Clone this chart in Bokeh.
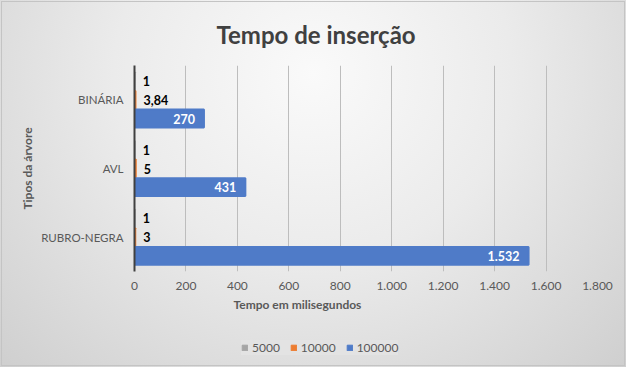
from bokeh.plotting import figure
from bokeh.layouts import column
from bokeh.models import (FactorRange, Range1d, FixedTicker, Legend,
                          LegendItem, ColumnDataSource, Title)
from bokeh.transform import dodge
from bokeh.embed import file_html
from bokeh.resources import INLINE

# ---------------- data ----------------
chart_title = "Tempo de inserção"
x_title = "Tempo em milisegundos"
y_title = "Tipos da árvore"
categories = ["BINÁRIA", "AVL", "RUBRO-NEGRA"]
series_names = ["5000", "10000", "100000"]
v5000 = [1, 1, 1]
v10000 = [3.84, 5, 3]
v100000 = [270, 431, 1532]
xticks = [0, 200, 400, 600, 800, 1000, 1200, 1400, 1600, 1800]
xtick_labels = ["0", "200", "400", "600", "800", "1.000", "1.200",
                "1.400", "1.600", "1.800"]
colors = ["#A5A5A5", "#ED7D31", "#4F7BC8"]

FONT = "Lato"


def fmt_ptbr(v):
    if float(v).is_integer():
        return f"{int(v):,}".replace(",", ".")
    return f"{v:.2f}".replace(".", ",")


source = ColumnDataSource(dict(
    cat=categories,
    s5000=v5000, s10000=v10000, s100000=v100000,
    l5000=[fmt_ptbr(v) for v in v5000],
    l10000=[fmt_ptbr(v) for v in v10000],
    l100000=[fmt_ptbr(v) for v in v100000],
))

p = figure(frame_width=463, frame_height=206,
           y_range=FactorRange(*categories[::-1]),
           x_range=Range1d(0, 1800),
           output_backend="svg", toolbar_location=None,
           min_border_left=134, min_border_right=29,
           min_border_top=65, min_border_bottom=62)

p.background_fill_alpha = 0
p.border_fill_alpha = 0
p.outline_line_color = None

# chart title
p.title.text = chart_title
p.title.align = "left"
p.title.offset = 82
p.title.text_font = FONT
p.title.text_font_size = "24px"
p.title.text_font_style = "bold"
p.title.text_color = "#404040"
p.title.standoff = 34

# grid
p.ygrid.grid_line_color = None
p.xgrid.grid_line_color = "#bdbdbd"
p.xgrid.grid_line_width = 1

# x axis
p.xaxis.ticker = FixedTicker(ticks=xticks)
p.xaxis.major_label_overrides = {t: l for t, l in zip(xticks, xtick_labels)}
p.xaxis.axis_line_color = None
p.xaxis.major_tick_line_color = None
p.xaxis.major_tick_out = 0
p.xaxis.major_tick_in = 0
p.xaxis.minor_tick_line_color = None
p.xaxis.major_label_standoff = 10
p.xaxis.major_label_text_font = FONT
p.xaxis.major_label_text_font_size = "12px"
p.xaxis.major_label_text_color = "#595959"

# y axis
p.yaxis.axis_line_color = "#404040"
p.yaxis.axis_line_width = 2
p.yaxis.major_tick_line_color = None
p.yaxis.major_tick_out = 0
p.yaxis.major_tick_in = 0
p.yaxis.minor_tick_line_color = None
p.yaxis.major_label_standoff = 11
p.yaxis.major_label_text_font = FONT
p.yaxis.major_label_text_font_size = "11.5px"
p.yaxis.major_label_text_color = "#595959"
p.yaxis.axis_label = y_title
p.yaxis.axis_label_text_font = FONT
p.yaxis.axis_label_text_font_size = "12px"
p.yaxis.axis_label_text_font_style = "bold"
p.yaxis.axis_label_text_color = "#595959"
p.yaxis.axis_label_standoff = 3

offsets = [0.272, 0.0, -0.272]
cols = ["s5000", "s10000", "s100000"]
lcols = ["l5000", "l10000", "l100000"]
for col, off, color in zip(cols, offsets, colors):
    p.hbar(y=dodge("cat", off, range=p.y_range), left=0, right=col,
           height=0.26, fill_color=color, line_color=color, line_width=2,
           source=source)

# data labels: small series outside, large series inside end
for col, lcol, off in zip(cols[:2], lcols[:2], offsets[:2]):
    p.text(x=col, y=dodge("cat", off, range=p.y_range), text=lcol, source=source,
           x_offset=8, text_align="left", text_baseline="middle",
           text_font={"value": FONT}, text_font_size="12.5px",
           text_font_style="bold", text_color="#000000")
p.text(x=cols[2], y=dodge("cat", offsets[2], range=p.y_range), text=lcols[2],
       source=source, x_offset=-9, text_align="right", text_baseline="middle",
       text_font={"value": FONT}, text_font_size="12.5px",
       text_font_style="bold", text_color="#FFFFFF")

# x-axis title (below the tick labels)
xt = Title(text=x_title, align="left", offset=99, vertical_align="top",
           standoff=8, text_font=FONT, text_font_size="12px",
           text_font_style="bold", text_color="#595959")
p.add_layout(xt, "below")

# ---------------- legend strip (second, axis-less figure) ----------------
pl = figure(width=626, height=34, x_range=Range1d(0, 1800),
            y_range=FactorRange(*categories[::-1]),
            x_axis_location=None, y_axis_location=None, title_location=None,
            output_backend="svg", toolbar_location=None, min_border=0)
pl.grid.visible = False
pl.background_fill_alpha = 0
pl.border_fill_alpha = 0
pl.outline_line_color = None

legend_renderers = []
for col, color in zip(cols, colors):
    r = pl.hbar(y="cat", left=0, right=col, height=0.26, fill_color=color,
                line_color=color, source=source)
    r.visible = False
    legend_renderers.append(r)

legend = Legend(items=[LegendItem(label=n, renderers=[r])
                       for n, r in zip(series_names, legend_renderers)],
                orientation="horizontal", location=(107, 12))
legend.inactive_fill_alpha = 0
legend.glyph_width = 7
legend.glyph_height = 7
legend.label_standoff = 4
legend.spacing = 10
legend.padding = 6
legend.margin = 0
legend.label_text_font = FONT
legend.label_text_font_size = "12px"
legend.label_text_color = "#595959"
legend.label_height = 10
legend.background_fill_color = "#e3e3e3"
legend.background_fill_alpha = 1
legend.border_line_color = None
pl.add_layout(legend)

layout = column(p, pl, spacing=0)
layout.styles = {
    "background": "radial-gradient(ellipse at 50% 20%, #fafafa 0%, #ebebeb 45%, #cfcfcf 100%)",
    "outline": "1px solid #c4c4c4",
    "outline-offset": "-2px",
}

open("out.html", "w").write(file_html(layout, INLINE))
